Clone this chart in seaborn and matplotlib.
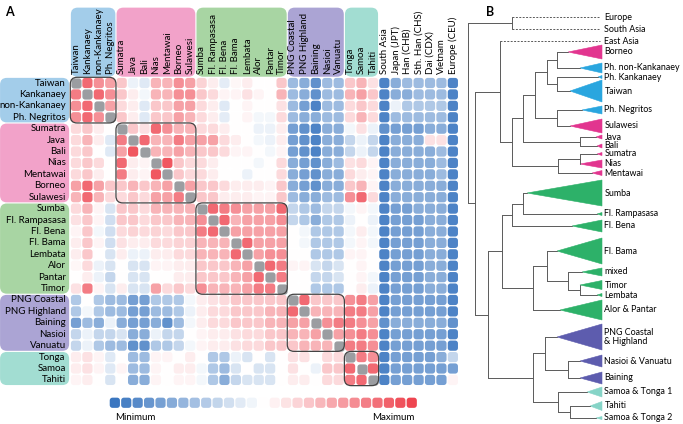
import numpy as np
import pandas as pd
import matplotlib
matplotlib.use('Agg')
import matplotlib.pyplot as plt
from matplotlib.path import Path
from matplotlib.patches import FancyBboxPatch, Polygon
from matplotlib.colors import LinearSegmentedColormap
import seaborn as sns

# populations (rows) and extra reference columns
populations = ['Taiwan', 'Kankanaey', 'non-Kankanaey', 'Ph. Negritos',
               'Sumatra', 'Java', 'Bali', 'Nias', 'Mentawai', 'Borneo', 'Sulawesi',
               'Sumba', 'Fl. Rampasasa', 'Fl. Bena', 'Fl. Bama', 'Lembata', 'Alor', 'Pantar', 'Timor',
               'PNG Coastal', 'PNG Highland', 'Baining', 'Nasioi', 'Vanuatu',
               'Tonga', 'Samoa', 'Tahiti']
reference = ['South Asia', 'Japan (JPT)', 'Han (CHB)', 'Sth. Han (CHS)',
             'Dai (CDX)', 'Vietnam', 'Europe (CEU)']
columns = populations + reference
group_sizes = [4, 7, 8, 5, 3]
group_colors = ['#a3cdea', '#f2a2c9', '#a8d5a3', '#aba4d4', '#a2ddd2']

N = np.nan
# score, blue = minimum (-5), red = maximum (+5), nan = self
values = [
    [N, 4, 3, 2.5, 1.5, -0.5, -0.8, 2, 2, 3, 2.5, 1.2, 0.5, -0.7, 0.2, 0.5, 0, 0, 1.5, -2.5, -3, -4, -2.5, -2.5, 1.5, 2, 0.8, -4.5, -3, -2.5, -2.5, -2.5, -2.5, -4.5],
    [3.5, N, 4, 3, 1.5, 0.5, -0.3, 2, 2, 3, 3, 1.5, 1, 0.3, 0.3, 0.8, 0.3, 0, 2, -2.5, -3, -4, -2.5, -2.5, 2, 2.5, 1.5, -4.5, -3, -3, -2.5, -2.5, -2.5, -4.5],
    [3, 4, N, 2.5, 1, 0.5, -0.8, 1.5, 1.5, 2.5, 2.5, 1, 0.5, -0.8, 0, 0.3, 0, 0, 0.8, -2.5, -3.5, -4.5, -2.5, -2.5, 1, 1.5, 1, -4.5, -0.5, -2, -2, -2, -2, -4.5],
    [3, 4, 3, N, 1.5, 0.5, -0.8, 1.5, 1.5, 2.5, 2, 1, 0.5, -0.7, 0, 0.3, -0.3, -0.3, 1, -2.5, -3, -3, -2.5, -2.5, 1, 2, 1, -4.5, -2.5, -2.5, -2.5, -2.5, -2.5, -4.5],
    [1, 1.5, 0.5, 0, N, 1.5, 0.8, 4, 3, 2, 2, 1, 1, 0.5, 0, 0, -0.5, -0.5, 0.5, -3.5, -4, -4.5, -3, -3, -0.3, 0.8, -0.5, -4, -3.5, -3.5, -3.5, -3, -3, -4.5],
    [1, 2, 0.5, -0.8, 3.5, N, 4, 2, 2, 3.5, 2.5, 2.5, 2.5, 1, 0.5, 0, -0.3, -0.5, 0.5, -3.5, -4, -4.5, -3, -3, -1.5, -0.5, -1.5, -4.5, -3, -3, -3, 0.8, 0.8, -4.5],
    [1, 1.5, 0, -0.8, 2.5, 4.5, N, 2, 2, 2.5, 2, 1.5, 1.5, 1, 0.3, 0.3, 0, -0.3, 0.3, -3.5, -4, -4.5, -3, -3, -1.5, -0.5, -1.5, -4.5, -3, -3, -3, -3, -2.5, -4.5],
    [1, 1.5, 1, 0, 4, 0.5, 0.3, N, 4.5, 1.5, 1, 1, 0.5, 0, 0, 0, -0.3, 0, 1, -3, -3.5, -4, -3, -2.5, 0.8, 1, 0.3, -4.5, -3, -3, -3, -3, -2.5, -4.5],
    [1, 1.5, 0.5, 0, 3.5, 0.5, 0.3, 4.5, N, 1.5, 1, 1, 0.5, 0, 0, -0.5, 0, 0, 1, -3, -3.5, -4, -3, -3, 1, 0.5, 0.3, -4.5, -3, -3, -3, -3, -2.5, -4.5],
    [2.5, 4, 2.5, 1.5, 1.5, 2, 1.5, 2, 2.5, N, 2.5, 1.5, 1.5, 1, 0.5, 0.5, 0.5, 0.3, 1.5, -3, -3.5, -4, -3, -3, 1.5, 2, 0.3, -4.5, -3, -3, -3, -3, -3, -4.5],
    [2, 4, 2, 1, 1, 1.5, 1, 2.5, 2.5, 3.5, N, 1.5, 1.5, 0.5, 0.5, 0.5, 0.3, 0.3, 1.5, -2.5, -3, -3, -2.5, -2.5, 3, 4, 1, -4.5, -3, -3, -3, -3, -3, -4.5],
    [1, 2, 0.3, -1, 1.5, 1.5, 1, 2, 2, 2, 2, N, 4, 3.5, 3, 2.5, 2.5, 2.5, 4, -1.5, -2, -2.5, -1.5, -1.5, -0.3, 0.3, -0.3, -4.5, -3.5, -3.5, -3, -3, -3, -4.5],
    [0.8, 1.5, 0.3, -1.2, 1.5, 1.5, 1, 1.5, 1.5, 2, 2, 3, N, 4, 2, 2.5, 2.5, 2.5, 3, -1.5, -2, -3, -2, -2, -0.5, 0, -0.5, -4.5, -3.5, -3.5, -3.5, -3, -3, -4.5],
    [0.3, 1.5, -0.3, -1.2, 1, 1.2, 1, 1.2, 1, 1.5, 1.5, 3.5, 4, N, 2.5, 2.5, 2.5, 2.5, 2.5, 0, -0.3, -2, -2, -2, -0.3, 0.5, -0.3, -4.5, -3.5, -3.5, -3.5, -3, -3, -4.5],
    [0.5, 1.5, 0.3, -1.2, 0.8, 0.5, 0.5, 1, 1, 1.2, 1.2, 2, 2, 2, N, 4, 2.5, 2.5, 2.5, 0, -0.3, -2, -2, -2, -0.3, 0.3, -0.3, -4.5, -3.5, -3.5, -3.5, -3, -3, -4.5],
    [0.5, 1.5, 0, -1, 0.5, -0.5, -0.5, 0.5, 0.5, 1, 1, 2, 2, 2, 4, N, 2.5, 3, 3, 0, 0, -2, -2, -2, 0.3, 0.3, 0, -4.5, -3.5, -3.5, -3.5, -3, -3, -4.5],
    [0.2, 1, -0.5, -1, 0, -1, -1, 0.3, 0.3, 0.5, 0.5, 1.5, 1.5, 1.5, 2, 2.5, N, 4, 3.5, 0.3, 0.3, -1, -1.5, -1, 0, 0.3, 0, -4.5, -3.5, -3.5, -3.5, -3, -3, -4.5],
    [0, 0.5, -0.5, -1.5, 0, -1, -1, 0, 0, 0.5, 0.5, 1.5, 1.5, 1.5, 2, 2.5, 4, N, 3.5, 0, 0, -1.5, -1.5, -1, 0, 0.3, -0.3, -4.5, -3.5, -3.5, -3.5, -3, -3, -4.5],
    [0.8, 3.5, 0.3, -1, 0.5, -1, -1, 2.5, 1, 1.5, 1, 3, 2, 2, 2, 2.5, 3.5, 3.5, N, 0, 0, -2, -2, -2, 0, 0.5, -0.5, -4.5, -3.5, -3.5, -3.5, -3, -3, -4.5],
    [-2, 0, -2, -2.5, -2.5, -3.5, -3.5, -2, -2, -2, -0.3, 0.5, 0.8, 1, 1.5, 1.5, 1.5, 1.5, 1.5, N, 4, 1.5, 1.5, 1.5, 3, 3.5, 2.5, -4.5, -3.5, -3.5, -3.5, -3.5, -3.5, -4.5],
    [-2, -0.3, -2, -2.5, -2.5, -3.5, -3.5, -2.5, -2.5, -2, -0.5, 0.5, 1, 1, 1.5, 1.5, 1.5, 2, 2, 4, N, 2, 2, 2, 3.5, 3.5, 2.5, -4.5, -3.5, -3.5, -3.5, -3.5, -3.5, -4.5],
    [-3.5, -2.5, -3, -0.5, -3, -3.5, -3.5, -3, -4, -2.5, -0.3, 0.5, 1, 1, 1.5, 1.5, 1.5, 2, 2, 2.5, 2.5, N, 3, 3.5, 3.5, 3, 2.5, -4, -3, -3, -3, -3, -3, -4],
    [-1.5, -0.5, -1.5, -1.5, -1, -3, -3, -0.5, -1.5, -1.5, 0, 0.3, 0.5, 0.5, 0.8, 1, 1, 1.5, 1.5, 2, 2, 2.5, N, 2.5, 3, 3.5, 3, -4.5, -3.5, -3.5, -3.5, -3.5, -3.5, -4.5],
    [-1.5, -0.5, -2, -2.5, -2.5, -4, -4, -2, -2, -1.5, -0.3, 0.3, 0.5, 0.5, 0.8, 1, 1, 1.5, 1.5, 1.5, 2, 2, 2, N, 3.5, 3.5, 3, -4.5, -3.5, -3.5, -3.5, -3.5, -3.5, -4.5],
    [0.5, 0.8, 0.3, -0.8, 0, -2.5, -2.5, 0.3, 0.3, 0, 0.5, 0, -2, -2, -0.5, -1, 0, -1, 0, 0.8, 0.8, 0, 1, 1, N, 3.5, 3, -4.5, -3.5, -3.5, -3.5, -3.5, -3, -1.5],
    [0.5, 0.8, 0.3, -0.8, 0.3, -2.5, -2.5, 0.3, 0, 0.5, 0.5, -0.3, -2, -2.5, -1, 0, -1, -1, 0, 0.8, 0, -0.5, 1.5, 1.5, 4, N, 4, -4.5, -3.5, -3.5, -3.5, -3.5, -3.5, -3.5],
    [0.3, 0.5, 0, -1, 0, -3, -3, 0.3, 0, 0.3, 0.3, -0.3, -2, -3, -1.5, -1, -1, -1, 0, 0.5, 0.5, 0, 1, 1, 3.5, 4, N, -4.5, -3.5, -3.5, -3.5, -3.5, -3.5, 0.3],
]

# tree (panel B): leaves with vertical position, clade triangle apex, half height, colour group
leaf_names = ['Europe', 'South Asia', 'East Asia', 'Borneo', 'Ph. non-Kankanaey', 'Ph. Kankanaey',
              'Taiwan', 'Ph. Negritos', 'Sulawesi', 'Java', 'Bali', 'Sumatra', 'Nias', 'Mentawai',
              'Sumba', 'Fl. Rampasasa', 'Fl. Bena', 'Fl. Bama', 'mixed', 'Timor', 'Lembata',
              'Alor & Pantar', 'PNG Coastal\n& Highland', 'Nasioi & Vanuatu', 'Baining',
              'Samoa & Tonga 1', 'Tahiti', 'Samoa & Tonga 2']
leaf_y = [17, 29, 41, 52, 68, 77, 91, 110, 126, 137, 146, 154, 164, 173,
          193, 214, 226, 251, 272, 285, 295, 310, 337, 361, 378, 392, 406, 418]
leaf_apex = [None, None, None, 568, 580, 598, 570, 582, 570, 596, 597, 597, 580, 592,
             527, 597, 572, 557, 582, 580, 597, 560, 557, 580, 580, 587, 590, 596]
leaf_half = [0, 0, 0, 7, 5, 1.5, 11, 4, 7, 2, 2, 1.5, 4, 2.5,
             13, 1.5, 6, 13, 4, 4.5, 1.5, 10, 13, 6, 6, 5, 4.5, 1.5]
leaf_group = [-1, -1, -1, 1, 0, 0, 0, 0, 1, 1, 1, 1, 1, 1,
              2, 2, 2, 2, 2, 2, 2, 2, 3, 3, 3, 4, 4, 4]
tree_colors = ['#2aa6df', '#e2358f', '#2db169', '#5d5cae', '#86d4c7']
# internal nodes: (name, child, child, depth position)
tree_nodes = [
    ('ES', 'Europe', 'South Asia', 512),
    ('BP', 'Borneo', 'Ph. non-Kankanaey', 557),
    ('KT', 'Ph. Kankanaey', 'Taiwan', 557),
    ('n4', 'BP', 'KT', 547),
    ('NS', 'Ph. Negritos', 'Sulawesi', 557),
    ('n5', 'n4', 'NS', 535),
    ('JB', 'Java', 'Bali', 580),
    ('n6', 'n5', 'JB', 523),
    ('SN', 'Sumatra', 'Nias', 580),
    ('SNM', 'SN', 'Mentawai', 558),
    ('n7', 'n6', 'SNM', 512),
    ('EA', 'East Asia', 'n7', 500),
    ('SR', 'Sumba', 'Fl. Rampasasa', 523),
    ('F', 'SR', 'Fl. Bena', 512),
    ('TL', 'Timor', 'Lembata', 580),
    ('mTL', 'mixed', 'TL', 568),
    ('BmTL', 'Fl. Bama', 'mTL', 547),
    ('G', 'BmTL', 'Alor & Pantar', 533),
    ('FLO', 'F', 'G', 502),
    ('NB', 'Nasioi & Vanuatu', 'Baining', 568),
    ('PNG', 'PNG Coastal\n& Highland', 'NB', 545),
    ('TT', 'Tahiti', 'Samoa & Tonga 2', 570),
    ('POL', 'Samoa & Tonga 1', 'TT', 558),
    ('OC', 'PNG', 'POL', 533),
    ('P', 'FLO', 'OC', 488),
    ('S', 'EA', 'P', 475),
    ('R', 'ES', 'S', 468),
]

sns.set_theme(style='white')
plt.rcParams['font.family'] = ['Lato', 'DejaVu Sans']
plt.rcParams['text.color'] = 'black'
fs = 7.0

W, H = 683, 424
pitch = 11.42
x0, y0 = 76, 83  # pixel centre of first cell

fig = plt.figure(figsize=(W / 100, H / 100), dpi=100)
ax = fig.add_axes([0, 0, 465 / W, 1])

# rounded square marker
def rounded_square(r=0.27, n=8):
    verts = []
    for cx, cy, a0 in [(0.5 - r, 0.5 - r, 0), (-0.5 + r, 0.5 - r, 90),
                       (-0.5 + r, -0.5 + r, 180), (0.5 - r, -0.5 + r, 270)]:
        for t in np.radians(np.linspace(a0, a0 + 90, n)):
            verts.append((cx + r * np.cos(t), cy + r * np.sin(t)))
    verts.append(verts[0])
    return Path(verts, closed=True)

marker = rounded_square()
cmap = LinearSegmentedColormap.from_list('bwr_soft', ['#3a76c0', '#ffffff', '#ee4550'])

records = [(i, j, v) for i, row in enumerate(values) for j, v in enumerate(row)]
df = pd.DataFrame(records, columns=['row', 'col', 'score'])

msize = 54
sns.scatterplot(data=df.dropna(), x='col', y='row', hue='score', palette=cmap,
                hue_norm=(-5, 5), marker=marker, s=msize, linewidth=0, legend=False, ax=ax)
sns.scatterplot(data=df[df['score'].isna()], x='col', y='row', color='#9b9da1',
                marker=marker, s=msize, linewidth=0, legend=False, ax=ax)

# colour scale strip
bar = pd.DataFrame({'col': 3.4 + np.arange(27), 'row': 28.0, 'score': np.linspace(-5, 5, 27)})
sns.scatterplot(data=bar, x='col', y='row', hue='score', palette=cmap, hue_norm=(-5, 5),
                marker=marker, s=msize, linewidth=0, legend=False, ax=ax)
ax.text(5.2, 29.3, 'Minimum', ha='center', va='center', fontsize=fs)
ax.text(27.8, 29.3, 'Maximum', ha='center', va='center', fontsize=fs)
ax.set_xlim(-x0 / pitch, (465 - x0) / pitch)
ax.set_ylim((H - y0) / pitch, -y0 / pitch)
ax.set_axis_off()

# group boxes and block outlines
start = 0
for size, color in zip(group_sizes, group_colors):
    ax.add_patch(FancyBboxPatch((-6.65, start - 0.45), 6.05, size - 0.1,
                                boxstyle='round,pad=0,rounding_size=0.6',
                                fc=color, ec='none', zorder=0))
    ax.add_patch(FancyBboxPatch((start - 0.45, -6.6), size - 0.1, 6.05,
                                boxstyle='round,pad=0,rounding_size=0.6',
                                fc=color, ec='none', zorder=0))
    ax.add_patch(FancyBboxPatch((start - 0.5, start - 0.5), size, size,
                                boxstyle='round,pad=0,rounding_size=0.6',
                                fill=False, ec='#444444', lw=0.9, zorder=5))
    start += size

for i, name in enumerate(populations):
    ax.text(-0.9, i, name, ha='right', va='center', fontsize=fs)
for j, name in enumerate(columns):
    ax.text(j, -0.75, name, ha='center', va='bottom', rotation=90, fontsize=fs)

fig.text(5 / W, 1 - 12 / H, 'A', fontsize=9, fontweight='bold', ha='left', va='center')
fig.text(486 / W, 1 - 12 / H, 'B', fontsize=9, fontweight='bold', ha='left', va='center')

# panel B tree
axb = fig.add_axes([0, 0, 1, 1])
axb.set_xlim(0, W)
axb.set_ylim(H, 0)
axb.set_axis_off()

tip_x = 602
ypos = dict(zip(leaf_names, leaf_y))
xpos = dict(zip(leaf_names, leaf_apex))
line_kw = dict(color='#5a5a5a', lw=0.7, solid_capstyle='round')
for name, a, b, x in tree_nodes:
    ypos[name] = (ypos[a] + ypos[b]) / 2
    xpos[name] = x
    axb.plot([x, x], [ypos[a], ypos[b]], **line_kw)
    for c in (a, b):
        if xpos[c] is None:
            axb.plot([x, 600], [ypos[c], ypos[c]], color='#5a5a5a', lw=0.7, ls=(0, (2, 1.5)))
        else:
            axb.plot([x, xpos[c]], [ypos[c], ypos[c]], **line_kw)

for name, y, apex, half, g in zip(leaf_names, leaf_y, leaf_apex, leaf_half, leaf_group):
    if apex is not None:
        axb.add_patch(Polygon([(apex, y), (tip_x, y - half), (tip_x, y + half)],
                              closed=True, fc=tree_colors[g], ec=tree_colors[g], lw=0.4))
    axb.text(tip_x + 2.5, y, name, ha='left', va='center', fontsize=6.4, linespacing=1.0)

fig.savefig('out.png', dpi=100)
